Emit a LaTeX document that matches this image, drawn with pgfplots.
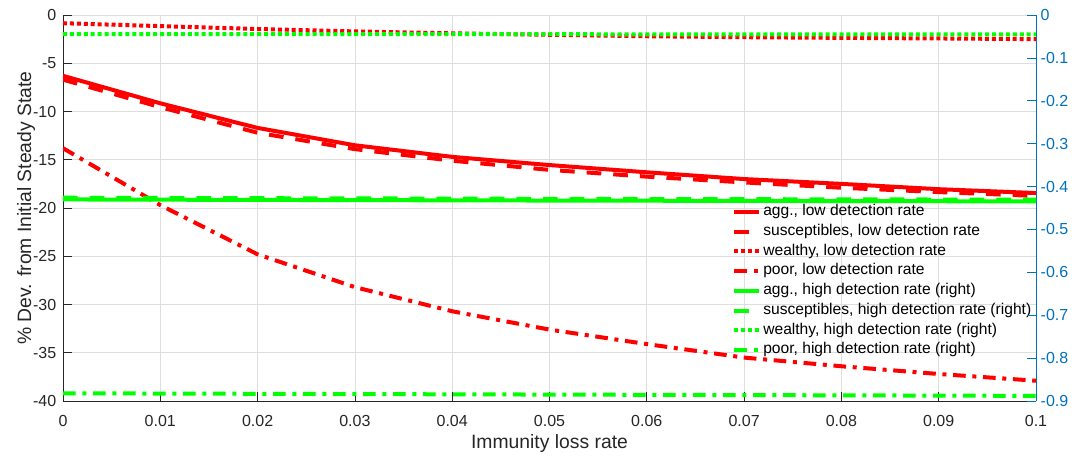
\documentclass[border=0pt]{standalone}
\usepackage{fontspec}
\setmainfont{Liberation Sans}
\usepackage{pgfplots}
\usepackage{pgfplotstable}
\pgfplotsset{compat=1.18}

\definecolor{mred}{rgb}{1,0,0}
\definecolor{mgreen}{rgb}{0,1,0}
\definecolor{mblue}{rgb}{0,0.447,0.741}
\definecolor{tickgray}{rgb}{0.15,0.15,0.15}
\definecolor{gridgray}{rgb}{0.87,0.87,0.87}

% low detection rate, % deviation (left axis)
\pgfplotstableread{
x     agg     susc    wealthy  poor
0.00  -6.30   -6.70   -0.85    -13.8
0.01  -9.15   -9.55   -1.15    -19.7
0.02  -11.70  -12.20  -1.45    -24.8
0.03  -13.50  -13.90  -1.70    -28.2
0.04  -14.70  -15.10  -1.90    -30.7
0.05  -15.55  -16.05  -2.05    -32.6
0.06  -16.30  -16.75  -2.20    -34.1
0.07  -17.00  -17.35  -2.30    -35.5
0.08  -17.50  -17.90  -2.37    -36.4
0.09  -18.05  -18.35  -2.43    -37.2
0.10  -18.45  -18.75  -2.50    -37.9
}\lowtab

% high detection rate, % deviation (right axis)
\pgfplotstableread{
x     agg      susc     wealthy  poor
0.00  -0.4300  -0.4260  -0.0443  -0.8820
0.01  -0.4306  -0.4266  -0.0444  -0.8826
0.02  -0.4311  -0.4271  -0.0445  -0.8832
0.03  -0.4316  -0.4276  -0.0446  -0.8838
0.04  -0.4321  -0.4281  -0.0447  -0.8844
0.05  -0.4326  -0.4286  -0.0448  -0.8850
0.06  -0.4330  -0.4290  -0.0449  -0.8856
0.07  -0.4334  -0.4294  -0.0450  -0.8862
0.08  -0.4338  -0.4298  -0.0451  -0.8868
0.09  -0.4342  -0.4302  -0.0451  -0.8874
0.10  -0.4346  -0.4306  -0.0452  -0.8880
}\hightab

\tikzset{
  lsolid/.style={line width=3pt},
  ldash/.style={line width=3pt, dash pattern=on 11pt off 9pt},
  ldot/.style={line width=3pt, dash pattern=on 3pt off 2.2pt},
  ldashdot/.style={line width=3pt, dash pattern=on 9.5pt off 5pt on 3pt off 5pt},
}

\pgfplotsset{
  common/.style={
    scale only axis,
    width=729.75pt, height=289.5pt,
    xmin=0, xmax=0.1,
    tick align=inside,
    major tick length=7pt,
    axis line style={-, line width=0.6pt},
    /pgf/number format/assume math mode=true,
    tick label style={font=\fontsize{12}{14}\selectfont},
    label style={font=\fontsize{14.5}{17}\selectfont},
  },
}

\begin{document}
\begin{tikzpicture}
\begin{axis}[
  common,
  ymin=-40, ymax=0,
  axis x line*=bottom,
  axis y line*=left,
  xtick={0,0.01,...,0.1},
  xticklabels={0,0.01,0.02,0.03,0.04,0.05,0.06,0.07,0.08,0.09,0.1},
  ytick={-40,-35,...,0},
  yticklabels={-40,-35,-30,-25,-20,-15,-10,-5,0},
  tick style={tickgray, line width=0.6pt},
  ticklabel style={text=tickgray},
  xticklabel style={yshift=-7pt},
  yticklabel style={xshift=-1.5pt},
  x axis line style={tickgray},
  y axis line style={tickgray},
  grid=major,
  major grid style={gridgray, line width=0.6pt},
  xlabel={Immunity loss rate},
  ylabel={\% Dev. from Initial Steady State},
  xlabel style={at={(axis description cs:0.5,-0.1218)}, anchor=base, text=tickgray},
  ylabel style={at={(axis description cs:-0.038,0.5)}, anchor=center, text=tickgray},
  legend image code/.code={\draw[#1] (0pt,0pt) -- (18.75pt,0pt);},
  legend cell align=left,
  legend style={
    at={(0.6876,0.5085)}, anchor=north west,
    draw=none, fill=none, inner sep=0pt,
    font=\fontsize{11.7}{13}\selectfont,
    nodes={inner sep=0pt, text height=8pt, text depth=2.5pt},
    row sep=4.3pt, column sep=1.5pt,
  },
]
\addplot[mred, lsolid] table[x=x, y=agg] {\lowtab};
\addlegendentry{agg., low detection rate}
\addplot[mred, ldash] table[x=x, y=susc] {\lowtab};
\addlegendentry{susceptibles, low detection rate}
\addplot[mred, ldot] table[x=x, y=wealthy] {\lowtab};
\addlegendentry{wealthy, low detection rate}
\addplot[mred, ldashdot] table[x=x, y=poor] {\lowtab};
\addlegendentry{poor, low detection rate}
\addlegendimage{mgreen, lsolid}
\addlegendentry{agg., high detection rate (right)}
\addlegendimage{mgreen, ldash}
\addlegendentry{susceptibles, high detection rate (right)}
\addlegendimage{mgreen, ldot}
\addlegendentry{wealthy, high detection rate (right)}
\addlegendimage{mgreen, ldashdot}
\addlegendentry{poor, high detection rate (right)}
\end{axis}

\begin{axis}[
  common,
  ymin=-0.9, ymax=0,
  axis x line=none,
  axis y line*=right,
  ytick={-0.9,-0.8,...,0.01},
  yticklabels={-0.9,-0.8,-0.7,-0.6,-0.5,-0.4,-0.3,-0.2,-0.1,0},
  y axis line style={mblue},
  ytick style={mblue, line width=0.6pt},
  yticklabel style={text=mblue},
]
\addplot[mgreen, lsolid] table[x=x, y=agg] {\hightab};
\addplot[mgreen, ldash] table[x=x, y=susc] {\hightab};
\addplot[mgreen, ldot] table[x=x, y=wealthy] {\hightab};
\addplot[mgreen, ldashdot] table[x=x, y=poor] {\hightab};
\end{axis}

\pgfresetboundingbox
\path[use as bounding box] (-47.25pt,-40.5pt) rectangle (757.5pt,300.75pt);
\end{tikzpicture}
\end{document}
